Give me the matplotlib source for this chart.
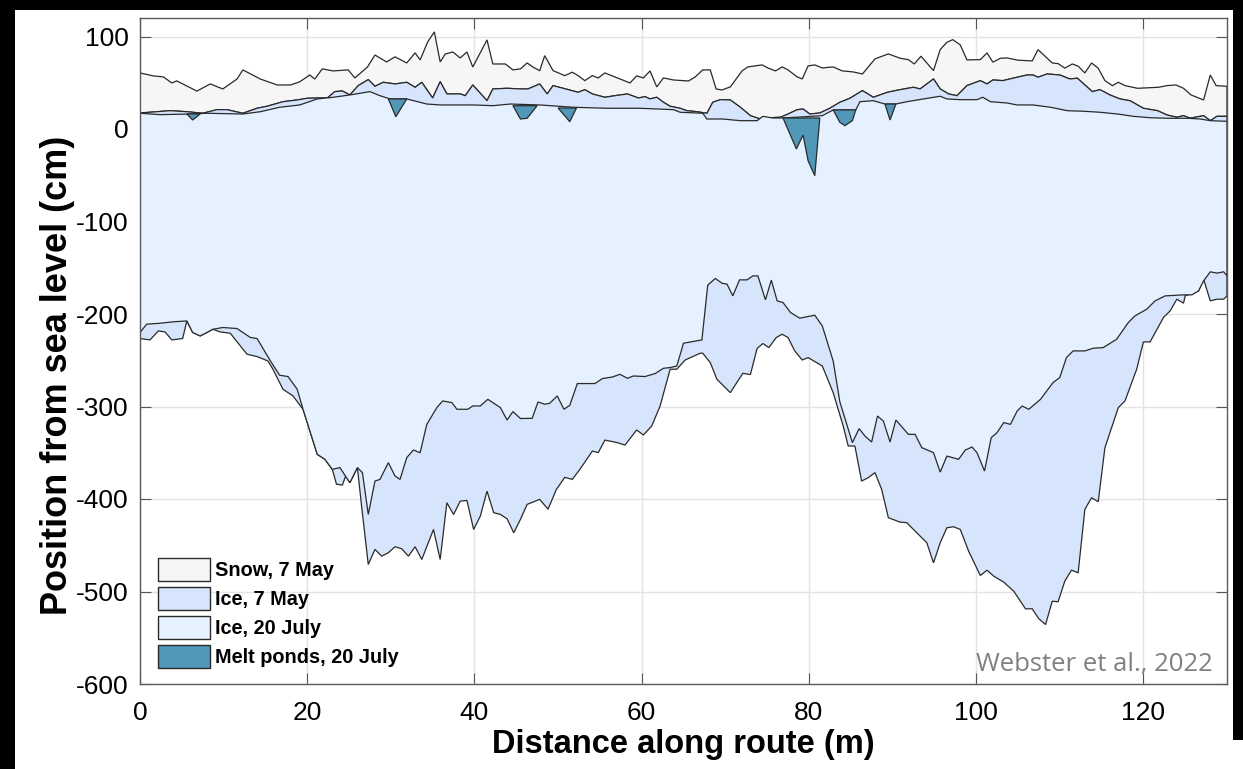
import numpy as np
import matplotlib
matplotlib.use("Agg")
import matplotlib.pyplot as plt
from matplotlib.patches import Patch, Rectangle

# ---------------- data ----------------
snow_x = [0, 1.6, 2.8, 3.8, 4.4, 6.8, 8.4, 9.9, 11.6, 12.3, 14.4, 16.4, 18.0, 19.1, 20.3, 20.9, 21.8, 23.1,
          24.9, 25.7, 27.2, 28.1, 29.5, 30.5, 31.9, 32.9, 33.5, 34.4, 35.2, 35.9, 36.5, 37.4, 38.3, 39.1,
          39.8, 41.5, 42.2, 43.7, 44.6, 45.5, 46.3, 47.0, 47.8, 48.4, 49.4, 50.8, 51.7, 52.4, 53.2, 54.1,
          54.8, 55.6, 57.1, 58.6, 59.4, 60.2, 61.0, 61.8, 62.6, 63.8, 65.6, 66.4, 67.3, 68.2, 68.9, 69.6,
          70.6, 72.0, 72.7, 74.4, 75.1, 76.0, 76.8, 77.5, 78.6, 79.2, 79.9, 80.7, 81.6, 82.9, 84.0, 85.3,
          86.4, 87.9, 89.5, 90.9, 91.9, 92.6, 93.4, 94.9, 95.7, 96.5, 97.2, 98.1, 98.9, 100.5, 101.3, 102.0,
          102.9, 103.7, 105.0, 106.7, 107.4, 109.1, 109.8, 110.6, 111.5, 112.2, 113.0, 113.8, 114.6, 115.4,
          116.3, 117.0, 117.8, 119.3, 121.8, 122.8, 123.9, 124.8, 125.7, 126.4, 127.2, 128.0, 128.7, 130]
snow_y = [60.6, 57.4, 56.3, 49.8, 52, 41, 48.7, 43.3, 54, 63.9, 54, 47.6, 47.6, 51, 58.4, 54, 65, 62.8,
          63.9, 55.2, 67, 80, 72.5, 78, 71.4, 82.3, 74.7, 94, 105, 72.5, 81, 83.3, 76.8, 83.3,
          67, 96.3, 70.3, 70.3, 63.9, 65, 71.4, 67, 63, 79.3, 63.1, 57.7, 61.4, 57.7, 52.3, 57.7,
          55.2, 60.6, 55.2, 49.8, 57.4, 55.2, 62.8, 45.5, 55.2, 53, 51.9, 56.3, 63.9, 63.9, 43.3, 42.2,
          45.5, 62.8, 67.1, 69.3, 66, 62.8, 67.1, 63.9, 56.3, 54.1, 68.2, 69.3, 66, 67.1, 62.8, 61.7,
          59.5, 75.8, 81.2, 76.5, 75, 70.3, 78.7, 63.1, 85.8, 93.8, 96.6, 90.9, 74.7, 75, 82.3, 72.2,
          76.5, 76.8, 74.4, 73.6, 85.8, 71.4, 70.7, 65.8, 70.3, 67.9, 60.6, 71.4, 65.7, 52.3,
          46.9, 50.5, 46.9, 44, 45.1, 46.9, 47.6, 44, 36.8, 34.3, 31.4, 58.4, 46.9, 46.2]

may_top_x = [0, 3.6, 5.6, 7.5, 9.2, 10.4, 12.3, 14.0, 15.2, 17.1, 18.8, 20.0, 21.2, 22.4, 23.3, 24.2, 25.1,
             26.1, 27.3, 28.1, 29.1, 30.5, 31.9, 32.9, 33.7, 35.0, 35.9, 36.7, 38.3, 38.9, 39.8, 41.5, 42.2,
             43.9, 45.5, 46.4, 47.8, 48.7, 49.4, 52.4, 53.2, 54.1, 55.6, 56.8, 58.3, 59.6, 60.4, 61.0, 61.8,
             62.6, 63.4, 64.6, 65.4, 66.6, 67.8, 68.5, 69.4, 70.6, 71.8, 73.0, 74.2, 75.4, 76.6, 77.5, 78.6,
             79.3, 80.1, 81.3, 82.5, 83.7, 84.9, 86.4, 87.7, 89.4, 90.9, 92.5, 93.3, 94.9, 95.7, 96.7, 97.7,
             98.9, 100.5, 101.3, 102.0, 103.2, 104.4, 106.1, 106.8, 107.4, 108.5, 110.0, 111.2, 112.1, 113.9,
             114.8, 116.0, 117.2, 118.4, 120.0, 121.7, 122.8, 124.0, 124.8, 125.6, 127.2, 128.0, 128.8, 130]
may_top_y = [17.3, 19.8, 18.7, 17, 20.9, 20.9, 17, 22.4, 24.6, 29.5, 31.4, 33.2, 33.5, 33.5, 40.4, 41.1, 36.8,
             46.9, 53.4, 46.2, 50.5, 48.7, 50.5, 45.1, 50.5, 33.5, 51.2, 37.9, 37.9, 36, 47.6, 30.6, 43.3,
             44, 43.3, 43.3, 48.7, 37.9, 46.9, 39.7, 42.5, 37.9, 34.3, 36, 37.9, 33.5, 35, 32.5, 34.3,
             28.9, 24.6, 22.4, 19.8, 18.7, 17, 28.9, 31.7, 31.4, 23.5, 14.4, 10.8, 12.2, 12.7, 16.2, 20.9,
             21.6, 16.2, 17.3, 22.4, 28.9, 33.2, 41.5, 34.3, 39.7, 42.5, 45.1, 43.3, 54.1, 43.3, 37.9, 36,
             46.9, 52.3, 48.7, 53, 52.3, 54.9, 58.4, 58.4, 56, 59.5, 58.4, 54.1, 54.9, 40.4,
             42.5, 36.8, 32.5, 30.6, 22.4, 19.8, 15.2, 12.7, 14.4, 11.7, 14.4, 9, 13.7, 13.7]

may_bot_x = [0, 1.2, 2.2, 3.0, 3.8, 5.1, 5.6, 6.3, 7.2, 8.0, 8.7, 9.6, 10.8, 12.0, 12.8, 14.0, 15.3, 15.9,
             17.1, 18.3, 19.5, 21.2, 22.1, 23.0, 23.5, 24.2, 24.6, 25.1, 26.0, 26.5, 27.3, 28.1, 28.9, 29.7,
             30.5, 31.3, 32.1, 32.9, 33.7, 35.1, 35.9, 36.7, 37.5, 38.3, 39.1, 39.9, 40.7, 41.5, 42.3, 43.1,
             43.9, 44.7, 45.5, 46.3, 47.8, 48.8, 49.8, 50.8, 51.7, 52.6, 54.1, 54.8, 55.6, 57.1, 58.0, 59.4,
             60.2, 61.2, 62.2, 63.4, 64.2, 65.2, 67.0, 67.3, 68.2, 69.0, 70.6, 71.5, 72.1, 73.0, 73.8, 74.5,
             75.2, 76.1, 76.8, 77.5, 78.3, 79.2, 79.9, 81.6, 82.9, 84.1, 84.7, 85.5, 86.3, 87.1, 87.9, 88.7,
             89.5, 90.9, 91.7, 92.7, 94.1, 94.9, 95.7, 96.5, 97.3, 98.1, 99.1, 100.5, 101.3, 102.1, 103.3,
             104.5, 105.9, 106.7, 107.5, 108.3, 109.1, 109.8, 110.6, 111.4, 112.2, 113.0, 113.8, 114.6, 115.4,
             117.0, 117.8, 119.2, 120.0, 120.8, 122.4, 123.2, 124.0, 124.8, 125.0, 126.6, 127.2, 128.0, 128.8,
             129.6, 130]
may_bot_y = [-226.5, -228, -218.3, -219.4, -228, -226.5, -207.5, -220, -223.7, -220, -216.5, -219.4, -220.8,
             -234.5, -243.5, -246, -250.8, -259.7, -281.4, -288.6, -303, -351.7, -357, -368, -384, -385, -375,
             -382.4, -366, -407.7, -470.8, -454.5, -461.8, -458.1, -451.6, -453.8, -461.8, -451.6, -465.4,
             -432.9, -465.4, -404, -416.7, -402.3, -401.5, -432.9, -418.5, -391.5, -414.8, -416.7, -421.4,
             -436.5, -422, -405.8, -400.4, -411, -389.6, -376.6, -378.8, -368, -348.2, -349.9, -336.3, -339.1,
             -341.7, -325.4, -330.8, -321.1, -299.5, -259.7, -259.7, -249.7, -242.4, -242.4, -252.5, -270.6,
             -285, -272.4, -264.1, -265.5, -237.3, -231.9, -236.3, -225.4, -221.9, -225.4, -239.9, -249.7,
             -247.1, -256.2, -285, -321.1, -342.7, -342.7, -380.6, -376.9, -371.5, -389.6, -420.2, -425,
             -425.6, -434.7, -447.3, -469, -447.3, -431.1, -430, -432.9, -456.4, -482.7, -477, -483.4, -489.9,
             -499.7, -518.7, -518.7, -529.5, -535.7, -510.5, -511.1, -488.8, -476.9, -479.8, -411.3, -398.6,
             -402.9, -344.5, -301.2, -294, -259.7, -230.2, -230.2, -203.8, -196.6, -184, -188.3, -180.4, -175,
             -162.3, -185.8, -184, -184, -180.4]

jul_top_x = [0, 2.4, 6.0, 8.0, 12.3, 14.4, 16.7, 19.1, 21.2, 23.1, 25.1, 27.5, 28.7, 29.9, 31.9, 34.3, 35.9,
             39.8, 42.2, 44.3, 47.8, 51.8, 55.9, 59.8, 63.8, 64.6, 67.3, 67.8, 69.7, 71.8, 73.8, 74.5, 75.7,
             76.9, 81.6, 82.9, 85.6, 86.1, 87.7, 89.1, 90.4, 91.7, 93.7, 95.7, 96.5, 98.1, 100.1, 100.8, 101.7,
             103.7, 104.9, 106.8, 108.9, 110.9, 112.8, 114.8, 116.9, 118.8, 120.8, 122.8, 125.2, 126.8, 128.0, 130]
jul_top_y = [17, 15.5, 16.2, 17, 16.2, 18.7, 23.5, 26, 32.5, 34.3, 36.8, 40.4, 36, 32.5, 32.5, 27, 26,
             26, 25.2, 27, 26, 23.5, 22.4, 22.4, 20.9, 18.1, 17, 10.8, 10.8, 9, 9, 13.7, 11.9,
             11.9, 14.4, 20.6, 20.6, 29.5, 30.6, 27, 27, 29.5, 32.5, 35.4, 32.5, 31.7, 31.7, 34.3, 29.5,
             28.1, 26, 26, 23.5, 19.8, 19.2, 18.1, 16.2, 13.7, 12.2, 11.6, 11.6, 10.8, 9, 8.3]

jul_bot_x = [0, 0.8, 2.4, 3.9, 5.6, 6.3, 7.2, 8.0, 8.7, 9.9, 11.6, 13.2, 14.0, 15.6, 16.7, 17.7, 18.8, 19.5,
             21.2, 22.1, 23.0, 23.9, 25.1, 26.0, 26.6, 27.3, 28.1, 28.7, 29.7, 30.5, 31.1, 31.9, 32.7, 33.5,
             34.3, 35.5, 36.2, 37.3, 37.9, 39.2, 39.8, 40.7, 41.6, 43.1, 43.9, 44.6, 45.5, 46.9, 47.6, 48.4,
             49.0, 49.9, 50.7, 51.4, 52.3, 54.4, 55.3, 56.5, 57.4, 58.3, 59.0, 60.4, 61.6, 62.6, 63.4, 64.2,
             65.0, 67.2, 67.9, 68.8, 69.6, 70.2, 70.9, 71.7, 72.6, 73.3, 73.9, 74.8, 75.5, 76.2, 76.9, 77.8,
             78.9, 80.7, 81.6, 82.9, 83.7, 85.2, 86.0, 86.7, 87.5, 88.2, 88.9, 89.7, 90.4, 91.9, 92.7, 93.5,
             94.9, 95.7, 96.5, 97.9, 98.7, 99.5, 100.1, 101.0, 101.8, 102.5, 103.3, 104.1, 104.9, 105.5, 106.3,
             107.7, 109.2, 110.0, 110.8, 111.6, 113.0, 114.0, 115.2, 116.8, 118.2, 119.0, 120.4, 121.4, 122.6,
             124.8, 125.8, 126.6, 127.2, 128.0, 128.8, 129.6, 130]
jul_bot_y = [-220, -211, -210, -208.5, -207.5, -220, -223.7, -220, -216.5, -214.6, -215.7, -225.4, -226.5,
             -250.8, -266.2, -267.6, -281.4, -303, -351.7, -357, -368, -366, -382.4, -366, -371.5, -416.7,
             -380.6, -378.8, -360.7, -375.2, -378.8, -355.3, -347, -350, -319.3, -301.2, -294, -295.8, -303,
             -303, -299.4, -299.4, -292.2, -301.2, -314.6, -305.5, -313, -312.8, -295.1, -297.6, -296.5,
             -288.6, -303, -298.7, -275.2, -275.2, -269.8, -268.1, -265.2, -269.5, -267, -267.6, -264.4,
             -258.7, -257.9, -256.2, -231.6, -228, -168.8, -161.6, -166.7, -167.7, -180.4, -163.1, -163.1,
             -158.8, -158.8, -184.7, -163.4, -185.8, -187.6, -198.4, -204.5, -201.3, -212.9, -250.8, -295,
             -339.1, -323.9, -331.9, -338.4, -310.3, -315.7, -338.4, -314.6, -330.1, -330.1, -344.5, -349.9,
             -370.9, -353.6, -357.1, -347.1, -343.8, -349.9, -369.8, -333.7, -328.2, -317.4, -319.3, -304.9,
             -299.5, -303, -292.2, -274.1, -268.7, -247.1, -239.9, -239.9, -237, -236.3, -227.3, -209.2, -202,
             -194.8, -185.8, -180.4, -179.3, -179.3, -175, -164.2, -154.4, -155.8, -154.4, -158.8]

# melt ponds, 20 July: outline points (surface ends + bottom)
pond_x = [[5.6, 6.3, 7.2],
          [29.7, 30.6, 31.9],
          [44.6, 45.5, 46.3, 47.5],
          [50.0, 51.4, 52.2],
          [76.9, 78.5, 79.3, 79.9, 80.7, 81.3],
          [82.9, 83.7, 84.3, 85.2, 85.6],
          [89.1, 89.7, 90.4]]
pond_y = [[16.3, 9.7, 16.3],
          [32.5, 13.3, 32.5],
          [25.2, 10.8, 11.6, 25.2],
          [22.7, 7.9, 22.7],
          [11.9, -21.6, -6.5, -34.3, -50.5, 11.9],
          [20.6, 7.2, 3.6, 9.0, 20.6],
          [27.0, 9.7, 27.0]]

labels = ["Snow, 7 May", "Ice, 7 May", "Ice, 20 July", "Melt ponds, 20 July"]
colors = ["#f6f6f6", "#d7e5fc", "#e5f1fe", "#5197b8"]

# ---------------- figure ----------------
plt.rcParams['font.family'] = ['Liberation Sans', 'DejaVu Sans']
plt.rcParams['axes.unicode_minus'] = False
fig = plt.figure(figsize=(12.43, 7.69), dpi=100, facecolor='black')
W, H = 1243, 769
fig.patches.append(Rectangle((15 / W, 0), (1233 - 15) / W, 1 - 10 / H, transform=fig.transFigure,
                             facecolor='white', edgecolor='none', zorder=-10))
fig.patches.append(Rectangle((1233 / W, 0), 10 / W, 29 / H, transform=fig.transFigure,
                             facecolor='white', edgecolor='none', zorder=-10))

ax = fig.add_axes([140 / W, 1 - 684 / H, (1227 - 140) / W, (684 - 18) / H])
ax.set_zorder(1)
ax.set_facecolor('white')

edge = '#2a2a2a'
lw = 0.9


def layer(xt, yt, xb, yb, color):
    px = np.concatenate([np.asarray(xt, float), np.asarray(xb, float)[::-1]])
    py = np.concatenate([np.asarray(yt, float), np.asarray(yb, float)[::-1]])
    ax.fill(px, py, facecolor=color, edgecolor=edge, linewidth=lw, zorder=2)


layer(snow_x, snow_y, may_top_x, may_top_y, colors[0])
layer(may_top_x, may_top_y, may_bot_x, may_bot_y, colors[1])
layer(jul_top_x, jul_top_y, jul_bot_x, jul_bot_y, colors[2])
for px_, py_ in zip(pond_x, pond_y):
    ax.fill(px_, py_, facecolor=colors[3], edgecolor=edge, linewidth=lw, zorder=3)

ax.set_xlim(0, 130)
ax.set_ylim(-600, 120)
ax.set_xticks(np.arange(0, 121, 20))
ax.set_yticks(np.arange(-600, 101, 100))
ax.grid(True, color='#e3e3e3', linewidth=1.0)
ax.set_axisbelow(True)
ax.tick_params(direction='in', length=8, width=0.8, top=True, right=True, labelsize=19,
               color='#555555')
ax.tick_params(axis='x', pad=12)
ax.tick_params(axis='y', pad=8)
for s in ax.spines.values():
    s.set_color('#5a5a5a')
    s.set_linewidth(1.0)
    s.set_zorder(5)

ax.set_xlabel("Distance along route (m)", fontsize=23.5, fontweight='bold', labelpad=3)
ax.set_ylabel("Position from sea level (cm)", fontsize=26, fontweight='bold')
ax.yaxis.set_label_coords(-0.0596, 0.464)

handles = [Patch(facecolor=c, edgecolor=edge, linewidth=1.0) for c in colors]
leg = ax.legend(handles, labels, loc='lower left', bbox_to_anchor=(0.0074, 0.009), frameon=False,
                prop={'weight': 'bold', 'size': 14.3}, handlelength=2.6, handleheight=1.44,
                labelspacing=0.28, handletextpad=0.25, borderpad=0.5, borderaxespad=0.0)

ax.text(0.987, 0.02, "Webster et al., 2022", transform=ax.transAxes, ha='right', va='baseline',
        fontsize=18.5, color='#808080', family=['Open Sans', 'DejaVu Sans'], zorder=6)

fig.savefig("out.png", dpi=100, facecolor=fig.get_facecolor())
